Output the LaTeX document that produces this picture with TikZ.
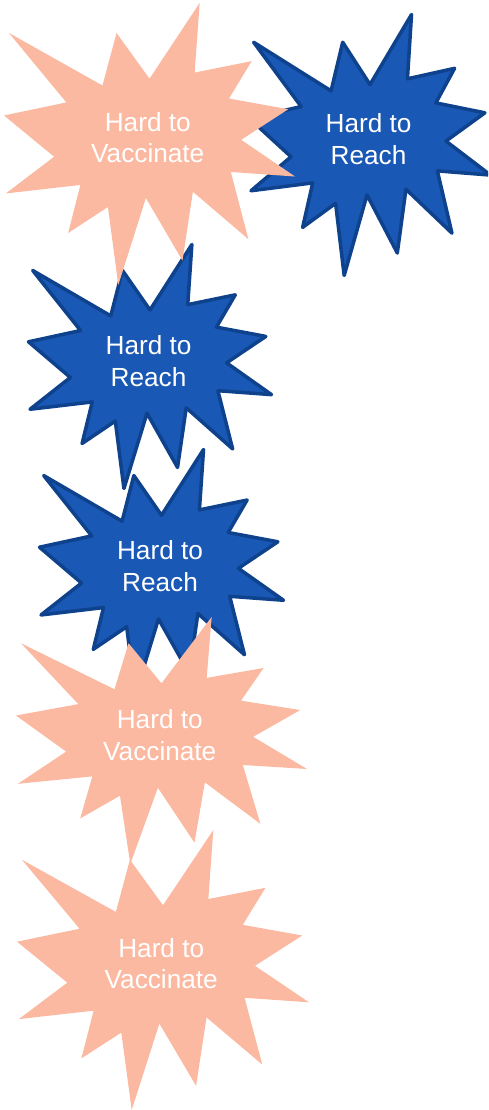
\documentclass[tikz,border=0pt]{standalone}
\usepackage{fontspec}
\setmainfont{Liberation Sans}
\usepackage{tikz}
\definecolor{salmon}{HTML}{FBB9A2}
\definecolor{reachblue}{HTML}{1A58B5}
\definecolor{reachedge}{HTML}{0E428C}

% one "explosion" shape: name, left, top, width, height, style, text
\newcommand\burst[7]{%
  \begin{scope}[shift={(#2,#3)}, x=#4pt, y=-#5pt]
    \draw[#6] (0.5,0.2685) -- (0.6723,0) -- (0.6553,0.2465) -- (0.8509,0.2063)
      -- (0.7732,0.3387) -- (0.9767,0.3767) -- (0.8151,0.4850) -- (1,0.6153)
      -- (0.7795,0.5992) -- (0.8400,0.8377) -- (0.6491,0.6693) -- (0.6133,0.9137)
      -- (0.4876,0.6914) -- (0.3928,1) -- (0.3572,0.7235) -- (0.2205,0.8156)
      -- (0.2624,0.6452) -- (0.00625,0.6753) -- (0.1723,0.5451) -- (0,0.3988)
      -- (0.2142,0.3526) -- (0.0171,0.1063) -- (0.3385,0.2926) -- (0.3867,0.1063)
      -- cycle;
    \node[bursttext] (#1) at (0.494,0.477) {#7};
  \end{scope}}

\begin{document}
\begin{tikzpicture}[x=1pt, y=-1pt,
    vaccinate/.style={fill=salmon, draw=none},
    reach/.style={fill=reachblue, draw=reachedge, line width=3.5pt, line join=round},
    bursttext/.style={text=white, align=center, inner sep=0pt,
      font=\fontsize{26.2}{31.7}\selectfont}]
  \useasboundingbox (0,0) rectangle (488,1110);
  \clip (0,0) rectangle (488,1110);
  % blue ones underneath
  \burst{reachA}{249.5}{14.5}{241}{261}{reach}{Hard to\\Reach}
  \burst{reachB}{28.5}{244.5}{243}{244}{reach}{Hard to\\Reach}
  \burst{reachC}{39.5}{449.5}{244}{245}{reach}{Hard to\\Reach}
  % salmon ones on top
  \burst{vaccA}{4}{3}{291}{282}{vaccinate}{Hard to\\Vaccinate}
  \burst{vaccB}{16}{617}{291}{247}{vaccinate}{Hard to\\Vaccinate}
  \burst{vaccC}{17}{830}{292}{280}{vaccinate}{Hard to\\Vaccinate}
\end{tikzpicture}
\end{document}
